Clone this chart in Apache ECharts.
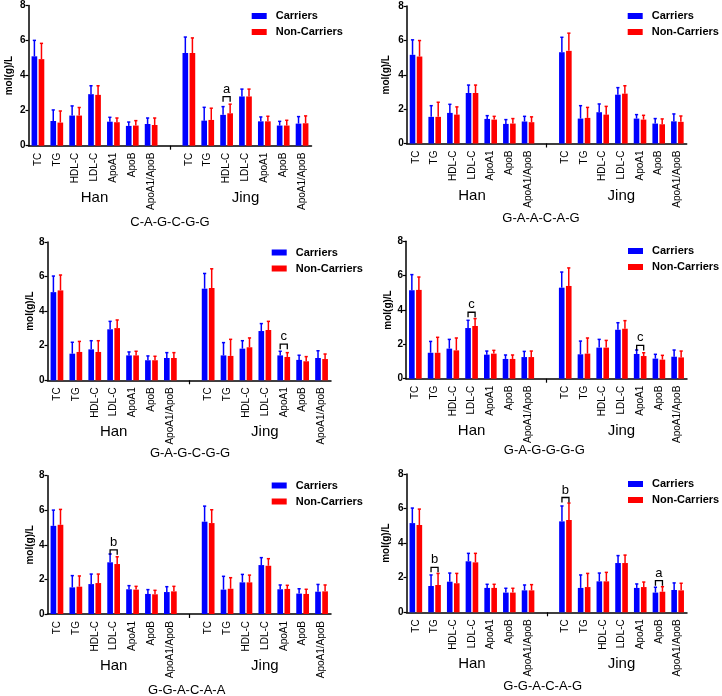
<!DOCTYPE html>
<html>
<head>
<meta charset="utf-8">
<script src="https://cdn.jsdelivr.net/npm/echarts@6/dist/echarts.min.js"></script>
<style>
html,body{margin:0;padding:0;background:#fff;}
#chart{width:722px;height:696px;}
</style>
</head>
<body>
<div id="chart"></div>
<script>
// ---------- DATA ----------
const panelTitles = ['C-A-G-C-G-G', 'G-A-A-C-A-G', 'G-A-G-C-G-G', 'G-A-G-G-G-G', 'G-G-A-C-A-A', 'G-G-A-C-A-G'];
const measureLabels = ['TC', 'TG', 'HDL-C', 'LDL-C', 'ApoA1', 'ApoB', 'ApoA1/ApoB'];
const groupNames = ['Han', 'Jing'];
const seriesNames = ['Carriers', 'Non-Carriers'];
const yTicks = [0, 2, 4, 6, 8];

// Means: Han (7 values) followed by Jing (7 values), one row per panel
const carriersMean = [
  [5.10, 1.41, 1.72, 2.94, 1.37, 1.13, 1.24,   5.29, 1.43, 1.76, 2.81, 1.39, 1.15, 1.26],
  [5.16, 1.55, 1.78, 2.94, 1.43, 1.14, 1.28,   5.31, 1.45, 1.82, 2.84, 1.45, 1.16, 1.29],
  [5.10, 1.54, 1.79, 2.95, 1.44, 1.16, 1.29,   5.30, 1.44, 1.83, 2.85, 1.44, 1.18, 1.29],
  [5.15, 1.51, 1.75, 2.95, 1.40, 1.15, 1.26,   5.30, 1.42, 1.81, 2.85, 1.44, 1.17, 1.28],
  [5.10, 1.54, 1.73, 2.99, 1.43, 1.16, 1.27,   5.34, 1.41, 1.83, 2.83, 1.43, 1.18, 1.29],
  [5.16, 1.52, 1.77, 2.95, 1.41, 1.14, 1.27,   5.26, 1.41, 1.79, 2.85, 1.41, 1.14, 1.29]
];
const carriersSD = [
  [0.91, 0.63, 0.55, 0.48, 0.25, 0.22, 0.34,   0.91, 0.76, 0.47, 0.42, 0.25, 0.24, 0.40],
  [0.87, 0.65, 0.50, 0.46, 0.19, 0.25, 0.30,   0.87, 0.75, 0.48, 0.41, 0.23, 0.29, 0.43],
  [0.93, 0.66, 0.50, 0.46, 0.20, 0.25, 0.31,   0.88, 0.74, 0.46, 0.43, 0.24, 0.27, 0.42],
  [0.91, 0.66, 0.54, 0.45, 0.21, 0.23, 0.33,   0.91, 0.77, 0.48, 0.41, 0.23, 0.25, 0.39],
  [0.91, 0.68, 0.58, 0.48, 0.21, 0.25, 0.31,   0.90, 0.77, 0.46, 0.43, 0.25, 0.28, 0.42],
  [0.87, 0.64, 0.50, 0.46, 0.21, 0.25, 0.31,   0.89, 0.75, 0.48, 0.43, 0.23, 0.31, 0.41]
];
const nonCarriersMean = [
  [4.94, 1.32, 1.72, 2.90, 1.34, 1.15, 1.18,   5.29, 1.47, 1.85, 2.81, 1.39, 1.15, 1.28],
  [5.06, 1.55, 1.68, 2.94, 1.39, 1.16, 1.24,   5.39, 1.49, 1.68, 2.90, 1.39, 1.12, 1.26],
  [5.20, 1.64, 1.64, 3.02, 1.44, 1.16, 1.29,   5.34, 1.41, 1.91, 2.91, 1.35, 1.10, 1.23],
  [5.17, 1.51, 1.65, 3.07, 1.46, 1.15, 1.26,   5.40, 1.46, 1.81, 2.91, 1.32, 1.11, 1.24],
  [5.16, 1.58, 1.79, 2.89, 1.41, 1.14, 1.31,   5.26, 1.46, 1.83, 2.79, 1.45, 1.16, 1.31],
  [5.05, 1.58, 1.68, 2.89, 1.41, 1.14, 1.27,   5.34, 1.46, 1.79, 2.85, 1.46, 1.19, 1.27]
];
const nonCarriersSD = [
  [0.90, 0.66, 0.46, 0.52, 0.24, 0.28, 0.40,   0.86, 0.67, 0.52, 0.42, 0.29, 0.30, 0.42],
  [0.93, 0.85, 0.45, 0.46, 0.19, 0.29, 0.31,   1.03, 0.61, 0.48, 0.46, 0.25, 0.31, 0.34],
  [0.89, 0.61, 0.65, 0.47, 0.24, 0.23, 0.31,   1.11, 0.96, 0.54, 0.50, 0.25, 0.27, 0.29],
  [0.75, 0.90, 0.72, 0.43, 0.19, 0.23, 0.35,   1.05, 0.91, 0.42, 0.47, 0.19, 0.25, 0.37],
  [0.89, 0.62, 0.52, 0.42, 0.19, 0.23, 0.29,   0.77, 0.64, 0.42, 0.41, 0.21, 0.27, 0.37],
  [0.92, 0.67, 0.57, 0.52, 0.21, 0.25, 0.33,   0.98, 0.79, 0.52, 0.46, 0.29, 0.29, 0.41]
];
// Significance marks per panel: [group, measure index, bracket height, letter]
const sigMarks = [
  [['Jing', 2, 2.80, 'a']],
  [],
  [['Jing', 4, 2.09, 'c']],
  [['Han', 3, 3.87, 'c'], ['Jing', 4, 1.94, 'c']],
  [['Han', 3, 3.71, 'b']],
  [['Han', 1, 2.60, 'b'], ['Jing', 0, 6.64, 'b'], ['Jing', 5, 1.83, 'a']]
];

// ---------- LAYOUT / STYLE ----------
const grids = [
  {left: 28.5, top: 5.5, width: 283, height: 140.2},
  {left: 406.7, top: 6, width: 280, height: 137.5},
  {left: 47.5, top: 242, width: 283.5, height: 138.3},
  {left: 406, top: 241.3, width: 281, height: 137.4},
  {left: 47.5, top: 475.7, width: 283.5, height: 138.3},
  {left: 406.5, top: 474, width: 280.5, height: 138.3}
];
const nameGaps = [14, 15, 10, 13, 10, 15];
const namePad = [[0, 0, 0, 0], [0, 0, 0, 0], [0, 0, 0, 0], [0, 0, 0, 0], [0, 0, 0, 0], [0, 0, 0, 0]];
const legendPos = [
  {left: 251.7, top: 9.5}, {left: 627.7, top: 9.5},
  {left: 271.7, top: 246}, {left: 628, top: 244.5},
  {left: 271.7, top: 479}, {left: 628, top: 477.5}
];
const titlePos = [[170, 222], [541, 218.3], [190, 453.7], [544.3, 450.3], [186.7, 690.7], [542.7, 686.7]];
const colors = ['#0000ff', '#ff0000'];
const FONT = '"Liberation Sans", Arial, sans-serif';
const BAR_W = 0.30, BAR_GAP = 0.25;
const SIDE_OFF = BAR_W / 2 + BAR_W * BAR_GAP / 2;

// axis slots: 7 Han, 1 gap, 7 Jing
const axisLabels = [...measureLabels, '', ...measureLabels];
const axisKeys = axisLabels.map((l, i) => i + '|' + l);
const GAP_SLOT = measureLabels.length;
const slotOf = (i) => (i < measureLabels.length ? i : i + 1);
const groupSlot = {};
groupNames.forEach((g, gi) => { groupSlot[g] = gi * (measureLabels.length + 1); });
const groupLabelSlots = {};
groupNames.forEach((g, gi) => { groupLabelSlots[gi * (measureLabels.length + 1) + 3] = g; });

function barData(arr) {
  const out = axisKeys.map(() => '-');
  arr.forEach((v, i) => { out[slotOf(i)] = v; });
  return out;
}
function errData(means, sds) {
  return means.map((m, i) => [slotOf(i), m, sds[i]]);
}
function errRender(side, color) {
  return function (params, api) {
    const idx = api.value(0), m = api.value(1), sd = api.value(2);
    const band = api.size([1, 0])[0];
    const p0 = api.coord([idx, m]);
    const p1 = api.coord([idx, m + sd]);
    const x = p0[0] + side * band * SIDE_OFF;
    return {
      type: 'group',
      children: [
        {type: 'line', shape: {x1: x, y1: p0[1], x2: x, y2: p1[1]}, style: {stroke: color, lineWidth: 1.5}},
        {type: 'line', shape: {x1: x - 1.6, y1: p1[1], x2: x + 1.6, y2: p1[1]}, style: {stroke: color, lineWidth: 1.5}}
      ]
    };
  };
}
function sigRender(marks) {
  return function (params, api) {
    const mk = marks[params.dataIndex];
    const idx = api.value(0), lvl = api.value(1);
    const band = api.size([1, 0])[0];
    const c = api.coord([idx, lvl]);
    const xl = c[0] - band * SIDE_OFF, xr = c[0] + band * SIDE_OFF;
    return {
      type: 'group',
      children: [
        {type: 'polyline', shape: {points: [[xl, c[1] + 5], [xl, c[1]], [xr, c[1]], [xr, c[1] + 5]]},
          style: {stroke: '#000', lineWidth: 1.3, fill: null}},
        {type: 'text', x: c[0], y: c[1] - 1,
          style: {text: mk[3], font: '13px ' + FONT, fill: '#000', textAlign: 'center',
            textVerticalAlign: 'bottom', verticalAlign: 'bottom'}}
      ]
    };
  };
}

const option = {
  animation: false,
  backgroundColor: '#fff',
  grid: [], xAxis: [], yAxis: [], series: [], legend: [], graphic: []
};

panelTitles.forEach((title, p) => {
  option.grid.push(Object.assign({containLabel: false, outerBoundsMode: 'none'}, grids[p]));
  option.xAxis.push({
    type: 'category', gridIndex: p, data: axisKeys, position: 'bottom',
    axisLine: {lineStyle: {color: '#000', width: 1.5}},
    axisTick: {show: true, alignWithLabel: true, length: 4, interval: (i) => i === GAP_SLOT,
      lineStyle: {color: '#000', width: 1.2}},
    axisLabel: {interval: 0, rotate: 90, margin: 7, fontSize: 10, color: '#000', fontFamily: FONT,
      formatter: (v, i) => axisLabels[i]},
    splitLine: {show: false}
  });
  option.xAxis.push({
    type: 'category', gridIndex: p, data: axisKeys, position: 'bottom', offset: 0,
    axisLine: {show: false}, axisTick: {show: false},
    axisLabel: {interval: 0, margin: 44.5, fontSize: 15, color: '#000', fontFamily: FONT,
      formatter: (v, i) => groupLabelSlots[i] || ''},
    splitLine: {show: false}
  });
  option.yAxis.push({
    type: 'value', gridIndex: p, min: yTicks[0], max: yTicks[yTicks.length - 1], interval: yTicks[1] - yTicks[0],
    name: 'mol(g)/L', nameLocation: 'middle', nameGap: nameGaps[p],
    nameTextStyle: {fontSize: 10, fontWeight: 'bold', color: '#000', fontFamily: FONT, padding: namePad[p]},
    axisLine: {show: true, lineStyle: {color: '#000', width: 1.5}},
    axisTick: {show: true, length: 3, lineStyle: {color: '#000', width: 1.2}},
    axisLabel: {fontSize: 10, fontWeight: 'bold', color: '#000', margin: 3, fontFamily: FONT},
    splitLine: {show: false}
  });
  const xi = p * 2;
  const means = [carriersMean[p], nonCarriersMean[p]];
  const sds = [carriersSD[p], nonCarriersSD[p]];
  seriesNames.forEach((nm, s) => {
    option.series.push({
      type: 'bar', name: nm, xAxisIndex: xi, yAxisIndex: p, data: barData(means[s]),
      barWidth: (BAR_W * 100) + '%', barGap: (BAR_GAP * 100) + '%',
      itemStyle: {color: colors[s]}, z: 2
    });
  });
  seriesNames.forEach((nm, s) => {
    option.series.push({
      type: 'custom', name: nm + ' SD', xAxisIndex: xi, yAxisIndex: p,
      data: errData(means[s], sds[s]), renderItem: errRender(s === 0 ? -1 : 1, colors[s]), z: 3, silent: true
    });
  });
  const marks = sigMarks[p];
  if (marks.length) {
    option.series.push({
      type: 'custom', name: 'sig', xAxisIndex: xi, yAxisIndex: p,
      data: marks.map(m => [groupSlot[m[0]] + m[1], m[2]]), renderItem: sigRender(marks), z: 4, silent: true
    });
  }
  option.legend.push({
    data: seriesNames, orient: 'vertical', left: legendPos[p].left, top: legendPos[p].top,
    padding: 0, itemGap: 3, itemWidth: 15, itemHeight: 6, icon: 'rect',
    textStyle: {fontSize: 11, fontWeight: 'bold', color: '#000', fontFamily: FONT, lineHeight: 13, padding: [0, 0, 0, 4]}
  });
  option.graphic.push({
    type: 'text', x: titlePos[p][0], y: titlePos[p][1],
    style: {text: title, font: '13px ' + FONT, fill: '#000', textAlign: 'center',
      textVerticalAlign: 'middle', verticalAlign: 'middle'}
  });
});

const chart = echarts.init(document.getElementById('chart'), null, {renderer: 'canvas'});
chart.setOption(option);
</script>
</body>
</html>
